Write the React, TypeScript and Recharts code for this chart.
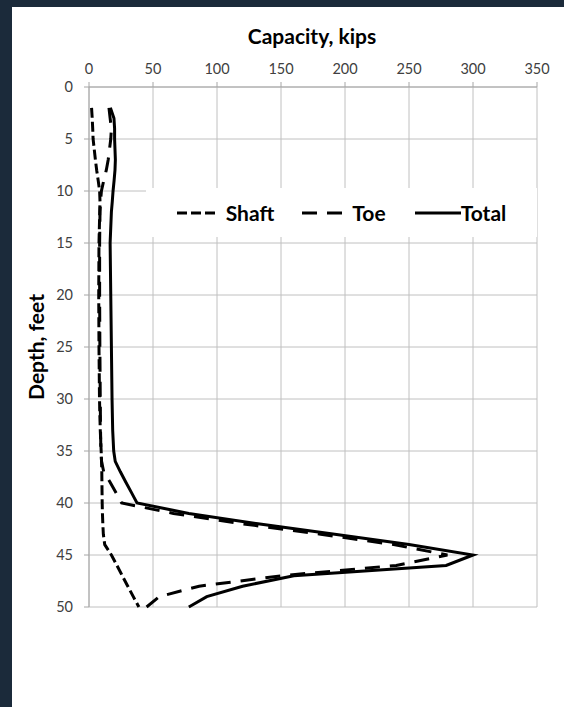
import { LineChart, Line, XAxis, YAxis, CartesianGrid, Legend } from 'recharts';

// depth below ground (ft) for every reading
const depths = [2, 3, 4, 5, 7, 8, 9, 10, 11, 12, 15, 20, 25, 30, 33, 35, 36, 37, 38, 39, 40, 41, 42, 43, 44, 45, 46, 47, 48, 49, 50];
// capacities in kips
const shaft = [2, 2.5, 2.9, 3.2, 5, 6, 7.2, 8.3, 8.6, 8.4, 7.8, 7.6, 7.8, 8.2, 8.8, 9.5, 9.8, 10, 10.1, 10.2, 10.3, 10.5, 10.8, 11.2, 12.3, 17.5, 21.8, 26, 30.3, 34.6, 39];
const toe = [15.6, 16.5, 17.5, 17, 15, 13.5, 11.5, 9.7, 9, 8.6, 8.3, 8.3, 8.5, 8.8, 9, 9.3, 9.8, 11.5, 16.5, 21, 25.5, 66, 120, 181, 238, 280, 240, 150, 86, 55, 45];
const total = [16.7, 19.5, 20, 20, 20.6, 20.3, 19.6, 18.8, 18.2, 17.5, 16.5, 17, 17.5, 18, 18.5, 19.3, 20.5, 24.5, 28.8, 33.2, 37.5, 78, 132, 192, 250, 300, 279, 160, 120, 92, 78];

const capacityTicks = [0, 50, 100, 150, 200, 250, 300, 350];
const depthTicks = [0, 5, 10, 15, 20, 25, 30, 35, 40, 45, 50];

const series = [
  { key: 'shaft', name: 'Shaft', dash: '10 4', swatch: 40, gap: 9, lead: 0 },
  { key: 'toe', name: 'Toe', dash: '15 10', swatch: 42, gap: 8, lead: 28 },
  { key: 'total', name: 'Total', dash: undefined as string | undefined, swatch: 46, gap: 0, lead: 29 },
];

const FONT = "Lato, 'Open Sans', sans-serif";
const GRID = '#c0c0c0';

const chartData = depths.map((d, i) => ({
  depth: d,
  shaft: shaft[i],
  toe: toe[i],
  total: total[i],
}));

const TitleLabel = ({ viewBox }: any) => (
  <text
    x={viewBox.x + viewBox.width / 2 - 1}
    y={viewBox.y - 13}
    textAnchor="middle"
    fontFamily={FONT}
    fontWeight="bold"
    fontSize={21}
    fill="#000"
  >
    Capacity, kips
  </text>
);

const DepthLabel = ({ viewBox }: any) => {
  const cx = viewBox.x - 14;
  const cy = viewBox.y + viewBox.height / 2;
  return (
    <text
      x={cx}
      y={cy}
      transform={`rotate(-90, ${cx}, ${cy})`}
      textAnchor="middle"
      dominantBaseline="central"
      fontFamily={FONT}
      fontWeight="bold"
      fontSize={21}
      fill="#000"
    >
      Depth, feet
    </text>
  );
};

const LegendContent = () => (
  <div
    style={{
      display: 'flex',
      alignItems: 'center',
      justifyContent: 'center',
      height: '100%',
      fontFamily: FONT,
      fontWeight: 'bold',
      fontSize: 21,
      color: '#000',
    }}
  >
    {series.map((s) => (
      <div key={s.key} style={{ display: 'flex', alignItems: 'center', marginLeft: s.lead }}>
        <svg width={s.swatch} height={10}>
          <line x1={0} y1={5} x2={s.swatch} y2={5} stroke="#000" strokeWidth={3} strokeDasharray={s.dash} />
        </svg>
        <span style={{ marginLeft: s.gap }}>{s.name}</span>
      </div>
    ))}
  </div>
);

export default function App() {
  return (
    <div style={{ position: 'absolute', left: 0, top: 0, width: 564, height: 707, background: '#1b2a3a', overflow: 'hidden' }}>
      <div style={{ position: 'absolute', left: 12, top: 7, width: 552, height: 700, background: '#fff' }}>
        <LineChart
          width={552}
          height={700}
          data={chartData}
          layout="vertical"
          margin={{ top: 50, right: 27, bottom: 100, left: 37 }}
        >
          <CartesianGrid stroke={GRID} strokeWidth={1} />
          <XAxis
            type="number"
            orientation="top"
            domain={[0, 350]}
            ticks={capacityTicks}
            height={30}
            axisLine={{ stroke: '#a6a6a6' }}
            tickLine={{ stroke: '#a6a6a6' }}
            tickSize={5}
            tickMargin={8}
            tick={{ fontSize: 14.5, fill: '#404040', fontFamily: FONT }}
            label={<TitleLabel />}
          />
          <YAxis
            type="number"
            dataKey="depth"
            domain={[0, 50]}
            ticks={depthTicks}
            width={40}
            axisLine={{ stroke: '#a6a6a6' }}
            tickLine={{ stroke: '#a6a6a6' }}
            tickSize={5}
            tickMargin={11}
            tick={{ fontSize: 14.5, fill: '#404040', fontFamily: FONT }}
            label={<DepthLabel />}
          />
          <Legend
            layout="horizontal"
            verticalAlign="middle"
            align="center"
            content={<LegendContent />}
            wrapperStyle={{ left: 134, top: 181, width: 391, height: 49, background: '#fff' }}
          />
          {series.map((s) => (
            <Line
              key={s.key}
              dataKey={s.key}
              name={s.name}
              type="linear"
              stroke="#000"
              strokeWidth={3}
              strokeDasharray={s.dash}
              dot={false}
              isAnimationActive={false}
            />
          ))}
        </LineChart>
      </div>
    </div>
  );
}
